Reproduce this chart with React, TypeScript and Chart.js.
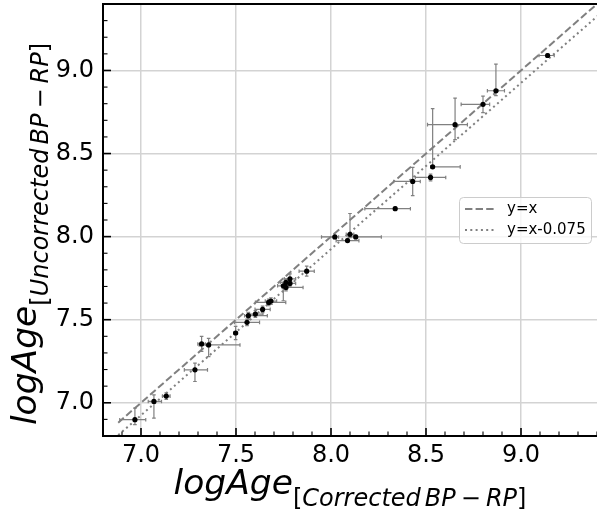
import React, { useEffect, useRef } from "react";
import { Chart, registerables } from "chart.js";

Chart.register(...registerables);

// ---- data ----
const logAgeCorrected = [
  9.14, 8.868, 8.80, 8.653, 8.535, 8.524, 8.43, 8.338, 8.10, 8.02, 8.13, 8.087,
  7.872, 7.784, 7.763, 7.784, 7.749, 7.763, 7.684, 7.672, 7.64, 7.602, 7.565,
  7.558, 7.498, 7.319, 7.356, 7.284, 7.133, 7.068, 6.968,
];
const logAgeUncorrected = [
  9.09, 8.878, 8.796, 8.674, 8.42, 8.356, 8.332, 8.168, 8.014, 7.998, 7.998, 7.976,
  7.792, 7.746, 7.724, 7.718, 7.704, 7.694, 7.612, 7.604, 7.562, 7.534, 7.524,
  7.484, 7.42, 7.354, 7.348, 7.198, 7.04, 7.008, 6.898,
];
const xErrLow = [
  0.045, 0.045, 0.115, 0.145, 0.01, 0.08, 0.1, 0.16, 0.02, 0.07, 0.04, 0.06,
  0.04, 0.03, 0.03, 0.03, 0.03, 0.02, 0.03, 0.07, 0.04, 0.04, 0.02,
  0.066, 0.01, 0.02, 0.05, 0.056, 0.02, 0.03, 0.08,
];
const xErrHigh = [
  0.035, 0.045, 0.035, 0.065, 0.145, 0.08, 0.04, 0.08, 0.02, 0.02, 0.135, 0.06,
  0.04, 0.03, 0.03, 0.03, 0.03, 0.09, 0.03, 0.09, 0.04, 0.04, 0.1,
  0.066, 0.01, 0.02, 0.165, 0.066, 0.02, 0.04, 0.057,
];
const yErrLow = [
  0.01, 0.03, 0.05, 0.09, 0.01, 0.02, 0.085, 0.01, 0.02, 0.01, 0.01, 0.01,
  0.03, 0.03, 0.02, 0.02, 0.09, 0.02, 0.02, 0.02, 0.02, 0.02, 0.02,
  0.02, 0.04, 0.045, 0.07, 0.07, 0.02, 0.1, 0.03,
];
const yErrHigh = [
  0.01, 0.16, 0.05, 0.16, 0.35, 0.02, 0.085, 0.01, 0.125, 0.01, 0.01, 0.01,
  0.03, 0.03, 0.02, 0.02, 0.02, 0.02, 0.02, 0.02, 0.02, 0.02, 0.02,
  0.02, 0.04, 0.045, 0.04, 0.04, 0.02, 0.04, 0.07,
];
const lineXRange = [6.88, 9.5];
const ageOffset = 0.075;
const tickLabels = ["7.0", "7.5", "8.0", "8.5", "9.0"];
const axisRange = [6.8, 9.4];
const legendLabels = ["y=x", "y=x-0.075"];

type Seg = { t: string; italic: boolean; sub: boolean; gap?: number };
const xTitleSegs: Seg[] = [
  { t: "logAge", italic: true, sub: false },
  { t: "[", italic: false, sub: true },
  { t: "Corrected", italic: true, sub: true, gap: 4 },
  { t: "BP", italic: true, sub: true, gap: 5 },
  { t: "\u2212", italic: false, sub: true, gap: 5 },
  { t: "RP", italic: true, sub: true },
  { t: "]", italic: false, sub: true },
];
const yTitleSegs: Seg[] = [
  { t: "logAge", italic: true, sub: false },
  { t: "[", italic: false, sub: true },
  { t: "Uncorrected", italic: true, sub: true, gap: 4 },
  { t: "BP", italic: true, sub: true, gap: 5 },
  { t: "\u2212", italic: false, sub: true, gap: 5 },
  { t: "RP", italic: true, sub: true },
  { t: "]", italic: false, sub: true },
];

const FONT = "'DejaVu Sans'";
const MAIN_SIZE = 34.5;
const SUB_SIZE = 24;
const SUB_DROP = 12;

function segFont(s: Seg) {
  return `${s.italic ? "italic " : ""}${s.sub ? SUB_SIZE : MAIN_SIZE}px ${FONT}`;
}

function drawMath(ctx: CanvasRenderingContext2D, segs: Seg[], cx: number, base: number) {
  let total = 0;
  const widths: number[] = [];
  segs.forEach((s) => {
    ctx.font = segFont(s);
    const w = ctx.measureText(s.t).width;
    widths.push(w);
    total += w + (s.gap || 0);
  });
  let x = cx - total / 2;
  ctx.textAlign = "left";
  ctx.textBaseline = "alphabetic";
  ctx.fillStyle = "#000";
  segs.forEach((s, i) => {
    ctx.font = segFont(s);
    ctx.fillText(s.t, x, base + (s.sub ? SUB_DROP : 0));
    x += widths[i] + (s.gap || 0);
  });
}

const isMajor = (v: number) =>
  Math.abs(v * 2 - Math.round(v * 2)) < 1e-6 && tickLabels.includes(v.toFixed(1));

const errorBarPlugin = {
  id: "errorBars",
  beforeDatasetDraw(chart: any, args: any) {
    if (args.index !== 2) return;
    const { ctx, chartArea } = chart;
    const xs = chart.scales.x;
    const ys = chart.scales.y;
    ctx.save();
    ctx.beginPath();
    ctx.rect(chartArea.left, chartArea.top, chartArea.right - chartArea.left, chartArea.bottom - chartArea.top);
    ctx.clip();
    ctx.strokeStyle = "#808080";
    ctx.lineWidth = 1.2;
    const cap = 1.8;
    for (let i = 0; i < logAgeCorrected.length; i++) {
      const px = xs.getPixelForValue(logAgeCorrected[i]);
      const py = ys.getPixelForValue(logAgeUncorrected[i]);
      const x0 = xs.getPixelForValue(logAgeCorrected[i] - xErrLow[i]);
      const x1 = xs.getPixelForValue(logAgeCorrected[i] + xErrHigh[i]);
      const y0 = ys.getPixelForValue(logAgeUncorrected[i] - yErrLow[i]);
      const y1 = ys.getPixelForValue(logAgeUncorrected[i] + yErrHigh[i]);
      ctx.beginPath();
      ctx.moveTo(x0, py);
      ctx.lineTo(x1, py);
      ctx.moveTo(px, y0);
      ctx.lineTo(px, y1);
      ctx.moveTo(x0, py - cap);
      ctx.lineTo(x0, py + cap);
      ctx.moveTo(x1, py - cap);
      ctx.lineTo(x1, py + cap);
      ctx.moveTo(px - cap, y0);
      ctx.lineTo(px + cap, y0);
      ctx.moveTo(px - cap, y1);
      ctx.lineTo(px + cap, y1);
      ctx.stroke();
    }
    ctx.restore();
  },
};

const decorPlugin = {
  id: "decor",
  afterDraw(chart: any) {
    const { ctx, chartArea } = chart;
    const { left, right, top, bottom } = chartArea;
    const xs = chart.scales.x;
    const ys = chart.scales.y;
    ctx.save();
    // frame (right spine falls outside the picture)
    ctx.strokeStyle = "#000";
    ctx.lineWidth = 2;
    ctx.beginPath();
    ctx.moveTo(right + 2, top);
    ctx.lineTo(left, top);
    ctx.lineTo(left, bottom);
    ctx.lineTo(right + 2, bottom);
    ctx.stroke();
    // inward ticks
    xs.ticks.forEach((t: any) => {
      const major = isMajor(t.value);
      const p = xs.getPixelForValue(t.value);
      ctx.lineWidth = major ? 1.6 : 1.1;
      ctx.beginPath();
      ctx.moveTo(p, bottom);
      ctx.lineTo(p, bottom - (major ? 8 : 4.5));
      ctx.stroke();
    });
    ys.ticks.forEach((t: any) => {
      const major = isMajor(t.value);
      const p = ys.getPixelForValue(t.value);
      ctx.lineWidth = major ? 1.6 : 1.1;
      ctx.beginPath();
      ctx.moveTo(left, p);
      ctx.lineTo(left + (major ? 8 : 4.5), p);
      ctx.stroke();
    });
    // legend
    const lw = 132;
    const lh = 46;
    const lx = right - 138;
    const ly = (top + bottom) / 2 - lh / 2;
    ctx.fillStyle = "rgba(255,255,255,0.8)";
    ctx.strokeStyle = "#cccccc";
    ctx.lineWidth = 1;
    ctx.beginPath();
    ctx.roundRect(lx + 0.5, ly + 0.5, lw, lh, 4);
    ctx.fill();
    ctx.stroke();
    const dashes = [[7.4, 3.2], [2, 3.3]];
    legendLabels.forEach((lab, i) => {
      const ry = ly + 12 + i * 21;
      ctx.strokeStyle = "#808080";
      ctx.lineWidth = 2;
      ctx.setLineDash(dashes[i]);
      ctx.beginPath();
      ctx.moveTo(lx + 6, ry);
      ctx.lineTo(lx + 37, ry);
      ctx.stroke();
      ctx.setLineDash([]);
      ctx.fillStyle = "#000";
      ctx.font = `15px ${FONT}`;
      ctx.textAlign = "left";
      ctx.textBaseline = "middle";
      ctx.fillText(lab, lx + 48, ry);
    });
    // axis titles
    drawMath(ctx, xTitleSegs, (left + right) / 2, 494);
    ctx.save();
    ctx.translate(36, (top + bottom) / 2 + 14);
    ctx.rotate(-Math.PI / 2);
    drawMath(ctx, yTitleSegs, 0, 0);
    ctx.restore();
    ctx.restore();
  },
};

export default function App() {
  const ref = useRef<HTMLCanvasElement | null>(null);
  useEffect(() => {
    if (!ref.current) return;
    const points = logAgeCorrected.map((x, i) => ({ x, y: logAgeUncorrected[i] }));
    const lineEq = lineXRange.map((x) => ({ x, y: x }));
    const lineOff = lineXRange.map((x) => ({ x, y: x - ageOffset }));
    const tickCb = (v: any) => {
      const n = Number(v);
      return isMajor(n) ? n.toFixed(1) : "";
    };
    const gridColor = (c: any) =>
      c.tick && isMajor(c.tick.value) ? "#d3d3d3" : "rgba(0,0,0,0)";
    const chart = new Chart(ref.current, {
      type: "scatter",
      data: {
        datasets: [
          {
            label: legendLabels[0],
            data: lineEq,
            showLine: true,
            borderColor: "#808080",
            borderWidth: 2,
            borderDash: [7.4, 3.2],
            pointRadius: 0,
            order: 3,
          },
          {
            label: legendLabels[1],
            data: lineOff,
            showLine: true,
            borderColor: "#808080",
            borderWidth: 2,
            borderDash: [2, 3.3],
            pointRadius: 0,
            order: 2,
          },
          {
            label: "clusters",
            data: points,
            backgroundColor: "#000",
            borderColor: "#000",
            pointRadius: 2.6,
            borderWidth: 0,
            order: 1,
          },
        ],
      } as any,
      options: {
        responsive: false,
        animation: false,
        devicePixelRatio: 1,
        layout: { autoPadding: false, padding: { top: 4, right: 0, left: 0, bottom: 0 } },
        plugins: { legend: { display: false }, tooltip: { enabled: false } },
        scales: {
          x: {
            type: "linear",
            min: axisRange[0],
            max: axisRange[1],
            afterFit: (s: any) => {
              s.height = 78;
              s.paddingLeft = 0;
              s.paddingRight = 0;
            },
            ticks: {
              stepSize: 0.1,
              autoSkip: false,
              maxRotation: 0,
              padding: 5,
              color: "#000",
              font: { family: "DejaVu Sans", size: 24 },
              callback: tickCb,
            },
            grid: { color: gridColor, lineWidth: 1.5, drawTicks: false },
            border: { display: false },
          },
          y: {
            type: "linear",
            min: axisRange[0],
            max: axisRange[1],
            afterFit: (s: any) => {
              s.width = 103;
              s.paddingTop = 0;
              s.paddingBottom = 0;
            },
            ticks: {
              stepSize: 0.1,
              autoSkip: false,
              padding: 9,
              color: "#000",
              font: { family: "DejaVu Sans", size: 24 },
              callback: tickCb,
            },
            grid: { color: gridColor, lineWidth: 1.5, drawTicks: false },
            border: { display: false },
          },
        },
      } as any,
      plugins: [errorBarPlugin, decorPlugin],
    });
    return () => chart.destroy();
  }, []);
  return (
    <div style={{ position: "absolute", left: 0, top: 0, width: 597, height: 514, background: "#fff" }}>
      <canvas ref={ref} width={597} height={514} style={{ display: "block" }} />
    </div>
  );
}
